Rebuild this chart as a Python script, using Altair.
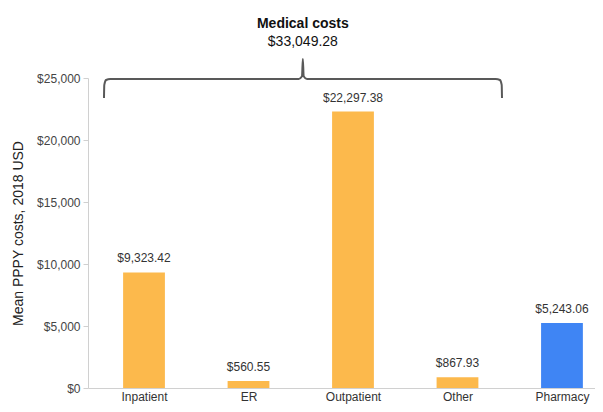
import altair as alt
import pandas as pd

# ---- data ----
categories = ["Inpatient", "ER", "Outpatient", "Other", "Pharmacy"]
costs = [9323.42, 560.55, 22297.38, 867.93, 5243.06]
groups = ["Medical", "Medical", "Medical", "Medical", "Pharmacy"]
positions = [0, 1, 2, 3, 4]

total_title = "Medical costs"
total_value = "$33,049.28"

# brace annotation in data units (category index, USD)
brace_x = [-0.383, -0.380, -0.363, -0.323, 1.48, 1.512, 1.52, 1.528, 1.56, 3.366, 3.406, 3.423, 3.426]
brace_y = [23390, 24450, 24840, 24920, 24920, 25140, 26530, 25140, 24920, 24920, 24840, 24450, 23390]

y_ticks = [0, 5000, 10000, 15000, 20000, 25000]

bars_df = pd.DataFrame({"cat": categories, "cost": costs, "group": groups, "pos": positions})
brace_df = pd.DataFrame({"bx": brace_x, "by": brace_y})
head_df = pd.DataFrame({"tx": [1.52], "ty": [29355], "txt": [total_title]})
total_df = pd.DataFrame({"tx": [1.52], "ty": [27903], "txt": [total_value]})

FONT = "Liberation Sans"
xscale = alt.Scale(domain=[-0.536, 4.316], nice=False, zero=False)
yscale = alt.Scale(domain=[0, 25000], nice=False)

label_expr = "[" + ",".join(f"'{c}'" for c in categories) + "][round(datum.value)]"

base = alt.Chart(bars_df).transform_calculate(
    x0="datum.pos - 0.2", x1="datum.pos + 0.2"
)

bars = base.mark_bar().encode(
    x=alt.X("x0:Q", scale=xscale,
            axis=alt.Axis(values=positions, labelExpr=label_expr, title=None,
                          ticks=False, grid=False, domainColor="#d0d0d0",
                          labelFont=FONT, labelFontSize=12, labelColor="#333333",
                          labelPadding=3)),
    x2="x1:Q",
    y=alt.Y("cost:Q", scale=yscale,
            axis=alt.Axis(values=y_ticks, format="$,.0f", grid=False,
                          title="Mean PPPY costs, 2018 USD",
                          titleFont=FONT, titleFontSize=14, titleFontWeight="normal",
                          titleColor="#222222", titleX=-63,
                          labelFont=FONT, labelFontSize=12, labelColor="#444444",
                          domainColor="#d0d0d0", tickColor="#d0d0d0", tickSize=5,
                          labelPadding=3)),
    y2=alt.datum(0),
    color=alt.Color("group:N", scale=alt.Scale(domain=["Medical", "Pharmacy"],
                                               range=["#FCB94C", "#3F85F4"]),
                    legend=None),
)

labels = base.mark_text(font=FONT, fontSize=12, color="#333333",
                        baseline="bottom", dy=-7).encode(
    x=alt.X("pos:Q", scale=xscale),
    y=alt.Y("cost:Q", scale=yscale),
    text=alt.Text("cost:Q", format="$,.2f"),
)

brace = alt.Chart(brace_df).mark_line(color="#595959", strokeWidth=2,
                                      interpolate="monotone").encode(
    x=alt.X("bx:Q", scale=xscale),
    y=alt.Y("by:Q", scale=yscale),
)

head = alt.Chart(head_df).mark_text(font=FONT, fontSize=14, color="#111111",
                                    fontWeight="bold", baseline="middle").encode(
    x=alt.X("tx:Q", scale=xscale),
    y=alt.Y("ty:Q", scale=yscale),
    text="txt:N",
)

total = alt.Chart(total_df).mark_text(font=FONT, fontSize=14, color="#111111",
                                      baseline="middle").encode(
    x=alt.X("tx:Q", scale=xscale),
    y=alt.Y("ty:Q", scale=yscale),
    text="txt:N",
)

chart = alt.layer(bars, labels, brace, head, total).properties(
    width=507, height=310,
    autosize=alt.AutoSizeParams(type="none"),
    padding={"left": 80, "top": 70, "right": 0, "bottom": 16},
).configure_view(stroke=None)

chart.save("out.html", embed_options={"renderer": "svg", "actions": False})
